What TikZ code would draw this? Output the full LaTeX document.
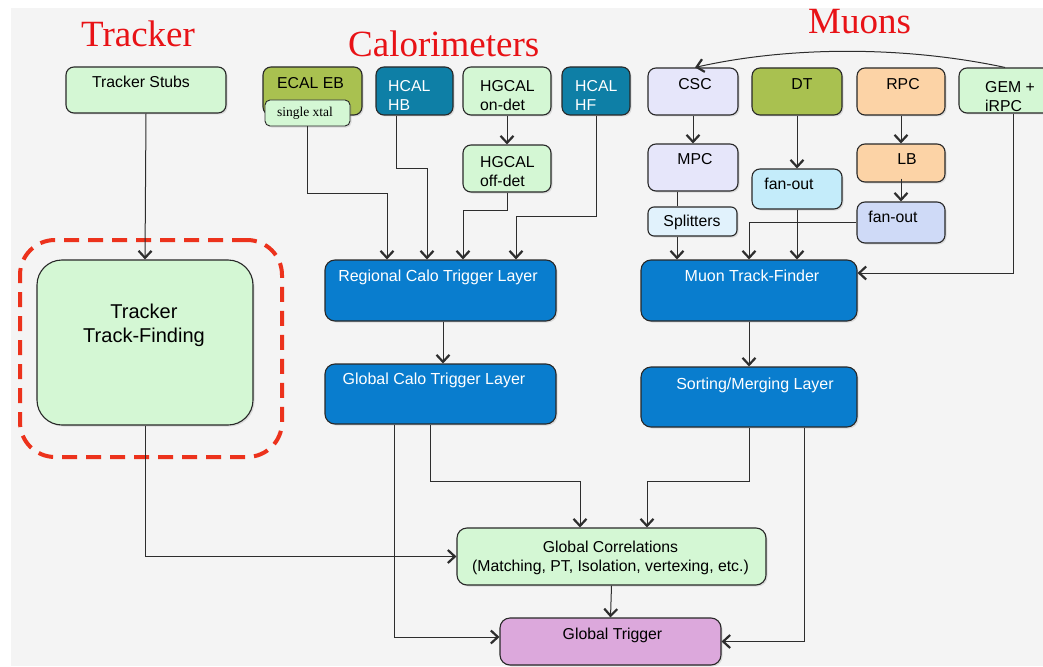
\documentclass[tikz,border=0pt]{standalone}
\usepackage{fontspec}
\setmainfont{Liberation Sans}
\newfontfamily\titlefont{Liberation Serif}
\usetikzlibrary{arrows.meta,fit,shadows}

\definecolor{pagegray}{RGB}{244,244,244}
\definecolor{edge}{RGB}{40,40,40}
\definecolor{wire}{RGB}{45,45,45}
\definecolor{titlered}{RGB}{232,18,22}
\definecolor{dashred}{RGB}{236,50,28}
\definecolor{lgreen}{RGB}{212,247,212}
\definecolor{olive}{RGB}{169,193,80}
\definecolor{teal}{RGB}{14,127,166}
\definecolor{trigblue}{RGB}{9,125,206}
\definecolor{lavender}{RGB}{230,230,250}
\definecolor{splitblue}{RGB}{225,242,252}
\definecolor{cyanbox}{RGB}{196,236,250}
\definecolor{peach}{RGB}{252,211,166}
\definecolor{periwinkle}{RGB}{207,218,247}
\definecolor{pink}{RGB}{220,168,220}

\begin{document}
\begin{tikzpicture}[x=1pt,y=-1pt,
  box/.style={draw=edge, line width=1.1pt, rounded corners=8pt, inner sep=0pt,
    drop shadow={shadow xshift=1.5pt, shadow yshift=-1.5pt, opacity=0.22}},
  lbl/.style={font=\fontsize{15.8}{19}\selectfont, inner sep=0pt, align=left, text=black},
  biglbl/.style={font=\fontsize{16}{19}\selectfont, inner sep=0pt, text=white},
  title/.style={font=\titlefont\fontsize{37}{40}\selectfont, text=titlered, inner sep=0pt},
  conn/.style={draw=wire, line width=1pt},
  arr/.style={conn, -{Straight Barb[length=7pt,width=13pt,line width=2.2pt]}},
]
\clip (0,0) rectangle (1043,666);
\fill[white] (0,0) rectangle (1043,666);
\fill[pagegray] (11,8) rectangle (1043,666);

% section titles
\node[title, anchor=base west] (tTrk) at (81,47) {Tracker};
\node[title, anchor=base west] (tCal) at (348,57) {Calorimeters};
\node[title, anchor=base west] (tMu)  at (808,34) {Muons};

% ---------- tracker column ----------
\node[box, fill=lgreen, fit={(66,67) (226,113)}] (ts) {};
\node[lbl, anchor=mid] (ts-t) at (141,85) {Tracker Stubs};
\node[draw=dashred, line width=4pt, dash pattern=on 15pt off 9pt, rounded corners=35pt,
      inner sep=0pt, fit={(20,240) (282,457)}] (hl) {};
\node[box, fill=lgreen, rounded corners=25pt, fit={(37,260) (253,425)}] (ttf) {};
\node[lbl, anchor=north, align=center, font=\fontsize{20}{24}\selectfont] (ttf-t) at (144,304) {Tracker\\Track-Finding};

% ---------- calorimeter column ----------
\node[box, fill=olive, fit={(263,67) (362,115)}] (ecal) {};
\node[lbl, anchor=mid west] (ecal-t) at (277,86) {ECAL EB};
\node[box, fill=lgreen, rounded corners=5pt, line width=0.9pt, fit={(265,100) (350,126)}] (xtal) {};
\node[inner sep=0pt, font=\titlefont\fontsize{13.5}{15}\selectfont, anchor=mid] (xtal-t) at (305,114) {single xtal};
\node[box, fill=teal, fit={(376,67) (453,115)}] (hb) {};
\node[lbl, text=white, anchor=north west] (hb-t) at (388,80.5) {HCAL\\HB};
\node[box, fill=lgreen, fit={(463,67) (551,115)}] (hgon) {};
\node[lbl, anchor=north west] (hgon-t) at (480,80.5) {HGCAL\\on-det};
\node[box, fill=teal, fit={(562,67) (630,115)}] (hf) {};
\node[lbl, text=white, anchor=north west] (hf-t) at (575,80.5) {HCAL\\HF};
\node[box, fill=lgreen, fit={(463,145) (551,192)}] (hgoff) {};
\node[lbl, anchor=north west] (hgoff-t) at (480,156.5) {HGCAL\\off-det};

\node[box, fill=trigblue, rounded corners=10pt, fit={(325,260) (556,321)}] (reg) {};
\node[biglbl, anchor=mid] (reg-t) at (438,279) {Regional Calo Trigger Layer};
\node[box, fill=trigblue, rounded corners=10pt, fit={(325,364) (556,424)}] (gcl) {};
\node[biglbl, anchor=mid] (gcl-t) at (434,382) {Global Calo Trigger Layer};

% ---------- muon column ----------
\node[box, fill=lavender, fit={(648,68) (738,115)}] (csc) {};
\node[lbl, anchor=mid] (csc-t) at (695,87) {CSC};
\node[box, fill=lavender, fit={(648,144) (738,191)}] (mpc) {};
\node[lbl, anchor=mid] (mpc-t) at (695,162) {MPC};
\node[box, fill=splitblue, rounded corners=6pt, fit={(648,207) (737,236)}] (spl) {};
\node[lbl, anchor=mid] (spl-t) at (692,224) {Splitters};
\node[box, fill=olive, fit={(752,68) (842,115)}] (dt) {};
\node[lbl, anchor=mid] (dt-t) at (802,87) {DT};
\node[box, fill=cyanbox, fit={(752,169) (842,209)}] (dtf) {};
\node[lbl, anchor=mid] (dtf-t) at (789,187) {fan-out};
\node[box, fill=peach, fit={(857,68) (945,115)}] (rpc) {};
\node[lbl, anchor=mid] (rpc-t) at (903,87) {RPC};
\node[box, fill=peach, fit={(857,144) (945,182)}] (lb) {};
\node[lbl, anchor=mid] (lb-t) at (907,162) {LB};
\node[box, fill=periwinkle, fit={(857,202) (945,243)}] (rpcf) {};
\node[lbl, anchor=mid] (rpcf-t) at (893,220) {fan-out};
\node[box, fill=lgreen, fit={(959,68) (1060,113)}] (gem) {};
\node[lbl, anchor=north west] (gem-t) at (985,81.5) {GEM +\\iRPC};

\node[box, fill=trigblue, rounded corners=10pt, fit={(641,260) (857,321)}] (mtf) {};
\node[biglbl, anchor=mid] (mtf-t) at (752,279) {Muon Track-Finder};
\node[box, fill=trigblue, rounded corners=10pt, fit={(641,367) (857,427)}] (sm) {};
\node[biglbl, anchor=mid] (sm-t) at (755,387) {Sorting/Merging Layer};

% ---------- global stage ----------
\node[box, fill=lgreen, rounded corners=10pt, fit={(457,528) (766,585)}] (gc) {};
\node[lbl, anchor=north, align=center] (gc-t) at (610.5,541) {Global Correlations\\(Matching, PT, Isolation, vertexing, etc.)};
\node[box, fill=pink, rounded corners=10pt, fit={(500,618) (721,665)}] (gt) {};
\node[lbl, anchor=mid] (gt-t) at (612.5,637) {Global Trigger};

% ---------- connectors ----------
\draw[arr] (ts.south) -- (ttf.north);
\draw[arr] (ttf.south) |- (gc.west);

\draw[arr] (xtal.south) -- ++(0,67) -| ([xshift=-53.5pt]reg.north);
\draw[arr] ([xshift=-18.5pt]hb.south) -- ++(0,53) -| ([xshift=-13.5pt]reg.north);
\draw[arr] (hgon.south) -- (hgoff.north);
\draw[arr] (hgoff.south) -- ++(0,18) -| ([xshift=22.5pt]reg.north);
\draw[arr] (hf.south) -- ++(0,101) -| ([xshift=75.5pt]reg.north);
\draw[arr] ([xshift=2.5pt]reg.south) -- ([xshift=2.5pt]gcl.north);
\draw[arr] ([xshift=-10.5pt]gcl.south) -- ++(0,57) -| ([xshift=-31.5pt]gc.north);
\draw[arr] ([xshift=-46.5pt]gcl.south) |- ([yshift=4.5pt]gt.west);

\draw[arr] (csc.south) -- (mpc.north);
\coordinate (mpcx) at ([xshift=-16pt]mpc.south);
\draw[conn] (mpcx) -- (mpcx |- spl.north);
\coordinate (splx) at ([xshift=-15.5pt]spl.south);
\draw[arr] (splx) -- (splx |- mtf.north);
\draw[arr] (dt.south) -- (dtf.north);
\draw[arr] (dtf.south) -- (dtf.south |- mtf.north);
\draw[arr] (rpc.south) -- (lb.north);
\draw[arr] ([yshift=4pt]lb.south) -- (rpcf.north);
\draw[arr] (rpcf.west) -| (mtf.north);
\draw[arr] ([xshift=3.5pt]gem.south) |- ([yshift=17.5pt]mtf.east);
\draw[arr] ([xshift=-4.5pt]gem.north) .. controls (905,46) and (790,46) .. ([xshift=2pt]csc.north);
\draw[arr] (mtf.south) -- (sm.north);
\draw[arr] (sm.south) -- ++(0,54) -| ([xshift=35.5pt]gc.north);
\draw[arr] ([xshift=55pt]sm.south) |- (gt.east);
\draw[arr] (gc.south) -- (gt.north);
\end{tikzpicture}
\end{document}
